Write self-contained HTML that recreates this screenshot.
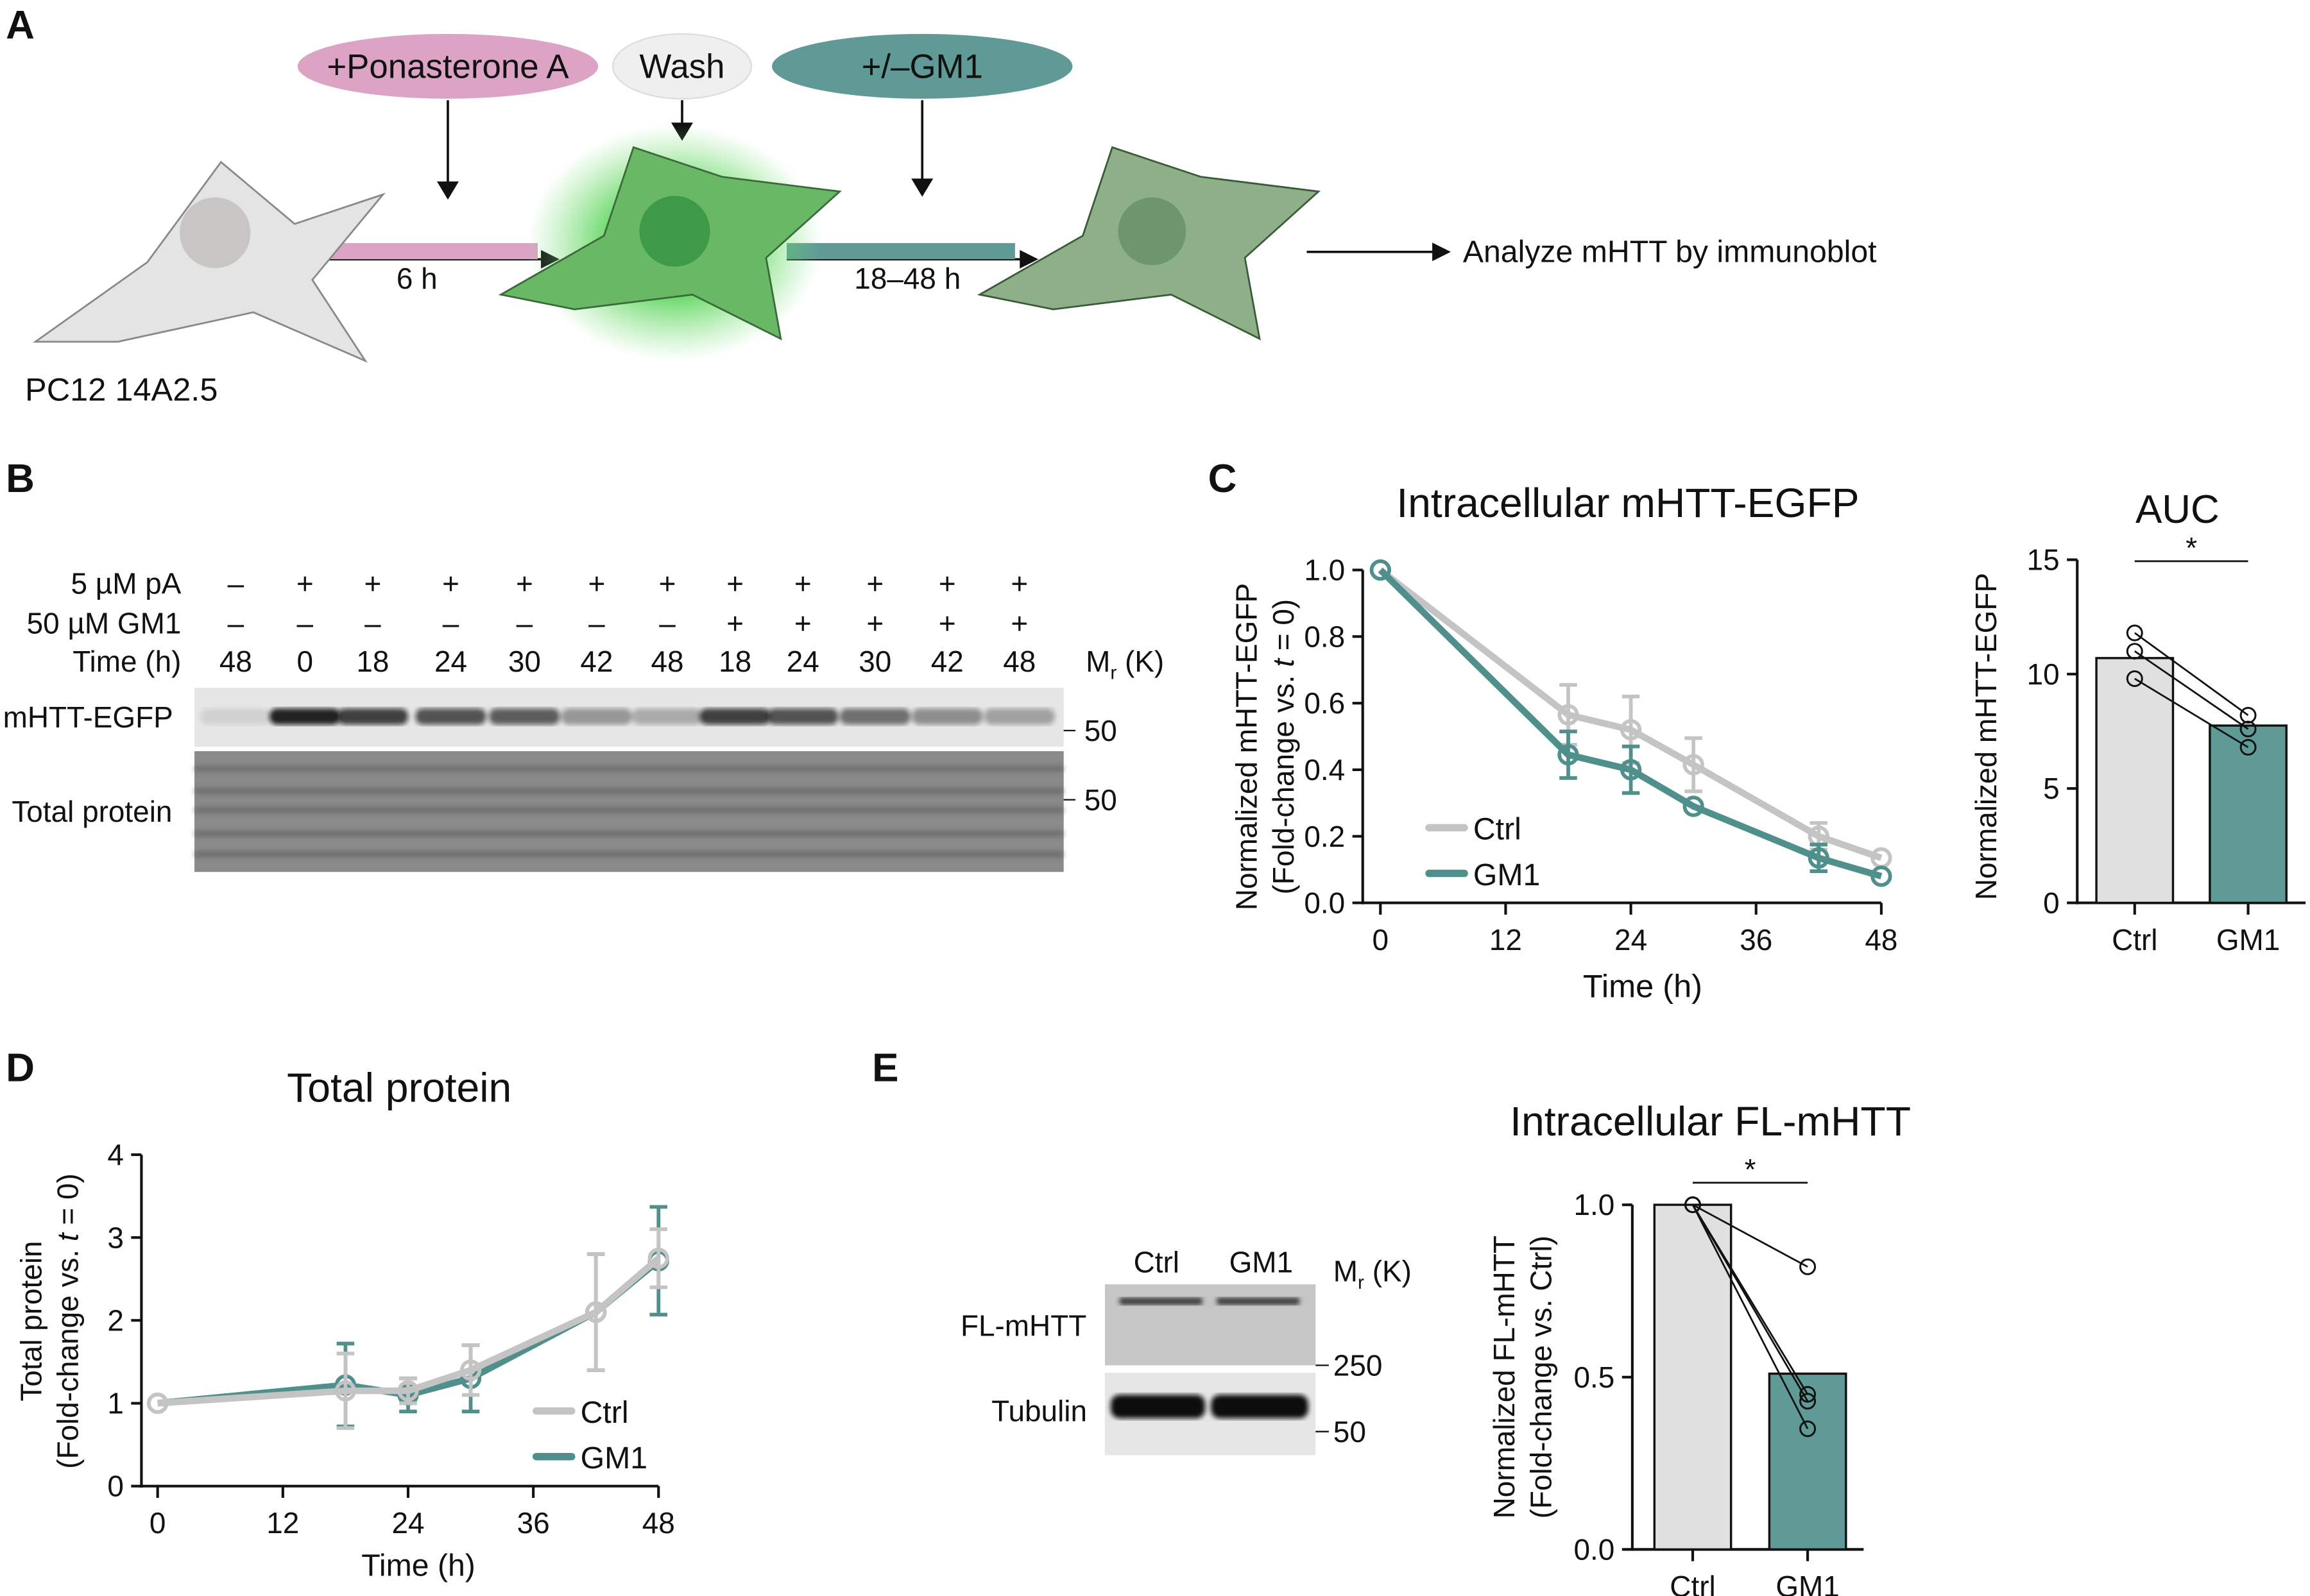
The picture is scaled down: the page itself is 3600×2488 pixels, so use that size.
<!DOCTYPE html>
<html><head><meta charset="utf-8"><style>
html,body{margin:0;padding:0;background:#fff}
svg{display:block}
text{font-family:"Liberation Sans",sans-serif;fill:#111}
</style></head><body>
<svg id="fig" width="3600" height="2488" viewBox="0 0 1568 1083.6" xmlns="http://www.w3.org/2000/svg">
<defs>
<radialGradient id="glow"><stop offset="0.45" stop-color="#4fd24f" stop-opacity="0.85"/><stop offset="1" stop-color="#7be07b" stop-opacity="0"/></radialGradient>
<filter id="bl"><feGaussianBlur stdDeviation="1.6"/></filter>
</defs>
<g>
<text x="4" y="26" font-size="27" font-weight="bold">A</text>
<ellipse cx="304" cy="45" rx="102" ry="22" fill="#dca3c4"/>
<text x="304" y="53" font-size="23" text-anchor="middle">+Ponasterone A</text>
<ellipse cx="463" cy="45" rx="47" ry="22" fill="#efefef" stroke="#ddd"/>
<text x="463" y="53" font-size="23" text-anchor="middle">Wash</text>
<ellipse cx="626" cy="45" rx="102" ry="22" fill="#5f9a96"/>
<text x="626" y="53" font-size="23" text-anchor="middle">+/–GM1</text>
<g stroke="#111" stroke-width="1.6" fill="#111">
<line x1="304" y1="68" x2="304" y2="126"/><polygon points="298,124 310,124 304,134"/>
<line x1="463" y1="68" x2="463" y2="86"/><polygon points="457,84 469,84 463,94"/>
<line x1="626" y1="68" x2="626" y2="124"/><polygon points="620,122 632,122 626,132"/>
<line x1="210" y1="176" x2="370" y2="176"/><polygon points="368,171 378,176 368,181"/>
<line x1="534" y1="176" x2="695" y2="176"/><polygon points="693,171 703,176 693,181"/>
<line x1="887" y1="171" x2="975" y2="171"/><polygon points="973,166 983,171 973,176"/>
</g>
<rect x="210" y="165" width="155" height="11" fill="#dca3c4"/>
<rect x="534" y="165" width="155" height="11" fill="#5f9a96"/>
<text x="283" y="196" font-size="20" text-anchor="middle">6 h</text>
<text x="616" y="196" font-size="20" text-anchor="middle">18–48 h</text>
<text x="993" y="178" font-size="21">Analyze mHTT by immunoblot</text>
<text x="17" y="272" font-size="22">PC12 14A2.5</text>
<polygon points="24,232 100,178 150,110 200,152 260,132 212,190 248,245 172,212 80,232" fill="#e4e4e4" stroke="#888" stroke-width="1.2"/>
<circle cx="146" cy="158" r="24" fill="#c9c5c5"/>
<ellipse cx="458" cy="165" rx="100" ry="80" fill="url(#glow)"/>
<polygon points="340,200 410,160 430,100 490,120 570,130 520,175 530,230 470,200 390,210" fill="#69b866" stroke="#3a6a3a" stroke-width="1.2"/>
<circle cx="458" cy="157" r="24" fill="#3e9a48"/>
<polygon points="665,200 735,160 755,100 815,120 895,130 845,175 855,230 795,200 715,210" fill="#8db088" stroke="#3a5a3a" stroke-width="1.2"/>
<circle cx="782" cy="157" r="23" fill="#6d966c"/>
</g>
<g id="pb">
<text x="4" y="334" font-size="27" font-weight="bold">B</text>
<text x="123" y="403" font-size="20" text-anchor="end">5 µM pA</text>
<text x="123" y="430" font-size="20" text-anchor="end">50 µM GM1</text>
<text x="123" y="456" font-size="20" text-anchor="end">Time (h)</text>
<text x="737" y="456" font-size="20">M<tspan font-size="13" dy="5">r</tspan><tspan dy="-5"> (K)</tspan></text>
<rect x="132" y="467" width="590" height="40" fill="#e6e6e6"/>
<rect x="132" y="510" width="590" height="82" fill="#8a8a8a"/>
<g stroke="#5c5c5c" stroke-width="4" opacity="0.6" filter="url(#bl)"><line x1="132" y1="522" x2="722" y2="522"/><line x1="132" y1="537" x2="722" y2="537"/><line x1="132" y1="550" x2="722" y2="550"/><line x1="132" y1="566" x2="722" y2="566"/><line x1="132" y1="580" x2="722" y2="580"/></g>
<text x="2" y="494" font-size="20">mHTT-EGFP</text>
<text x="8" y="558" font-size="20">Total protein</text>
<line x1="722" y1="496" x2="730" y2="496" stroke="#111"/><text x="736" y="503" font-size="20">50</text>
<line x1="722" y1="543" x2="730" y2="543" stroke="#111"/><text x="736" y="550" font-size="20">50</text>
</g>
<g id="pc">
<text x="820" y="334" font-size="27" font-weight="bold">C</text>
<text x="1105" y="351" font-size="28" text-anchor="middle">Intracellular mHTT-EGFP</text>
<text transform="translate(853,507) rotate(-90)" font-size="20" text-anchor="middle">Normalized mHTT-EGFP</text>
<text transform="translate(878,507) rotate(-90)" font-size="20" text-anchor="middle">(Fold-change vs. <tspan font-style="italic">t</tspan> = 0)</text>
<text x="1115" y="677" font-size="22" text-anchor="middle">Time (h)</text>
<text x="1478" y="355" font-size="27" text-anchor="middle">AUC</text>
<text transform="translate(1355,500) rotate(-90)" font-size="20" text-anchor="middle">Normalized mHTT-EGFP</text>
</g>
<g id="pd">
<text x="4" y="734" font-size="27" font-weight="bold">D</text>
<text x="271" y="748" font-size="28" text-anchor="middle">Total protein</text>
<text transform="translate(28,897) rotate(-90)" font-size="20" text-anchor="middle">Total protein</text>
<text transform="translate(53,897) rotate(-90)" font-size="20" text-anchor="middle">(Fold-change vs. <tspan font-style="italic">t</tspan> = 0)</text>
<text x="284" y="1070" font-size="21" text-anchor="middle">Time (h)</text>
</g>
<g id="pe">
<text x="592" y="734" font-size="27" font-weight="bold">E</text>
<text x="785" y="864" font-size="20" text-anchor="middle">Ctrl</text>
<text x="856" y="864" font-size="20" text-anchor="middle">GM1</text>
<text x="905" y="870" font-size="20">M<tspan font-size="13" dy="5">r</tspan><tspan dy="-5"> (K)</tspan></text>
<rect x="750" y="872" width="143" height="55" fill="#c6c6c6"/>
<rect x="760" y="881" width="56" height="5" fill="#3a3a3a" filter="url(#bl)"/><rect x="826" y="881" width="56" height="5" fill="#3a3a3a" filter="url(#bl)"/>
<rect x="750" y="932" width="143" height="56" fill="#e6e6e6"/>
<rect x="754" y="947" width="64" height="16" rx="6" fill="#111" filter="url(#bl)"/><rect x="822" y="947" width="66" height="16" rx="6" fill="#111" filter="url(#bl)"/>
<text x="652" y="907" font-size="20">FL-mHTT</text>
<text x="673" y="965" font-size="20">Tubulin</text>
<line x1="893" y1="927" x2="902" y2="927" stroke="#111"/><text x="905" y="934" font-size="20">250</text>
<line x1="893" y1="972" x2="902" y2="972" stroke="#111"/><text x="905" y="979" font-size="20">50</text>
<text x="1161" y="771" font-size="28" text-anchor="middle">Intracellular FL-mHTT</text>
<text transform="translate(1028,935) rotate(-90)" font-size="20" text-anchor="middle">Normalized FL-mHTT</text>
<text transform="translate(1053,935) rotate(-90)" font-size="20" text-anchor="middle">(Fold-change vs. Ctrl)</text>
</g>
</svg>
<script>
const laneX=[160,207,253,306,356,405,453,499,545,594,643,692];
const paRow=['–','+','+','+','+','+','+','+','+','+','+','+'];
const gmRow=['–','–','–','–','–','–','–','+','+','+','+','+'];
const timeRow=['48','0','18','24','30','42','48','18','24','30','42','48'];
const bandIntensity=[0.1,1,0.85,0.75,0.7,0.4,0.3,0.85,0.75,0.6,0.45,0.35];
const cTimes=[0,18,24,30,42,48];
const cCtrl=[1.0,0.565,0.52,0.415,0.2,0.135];
const cCtrlErr=[0,0.09,0.1,0.08,0.04,0];
const cGM1=[1.0,0.445,0.4,0.29,0.135,0.08];
const cGM1Err=[0,0.07,0.07,0,0.04,0];
const cYTicks=['0.0','0.2','0.4','0.6','0.8','1.0'];
const cXTicks=[0,12,24,36,48];
const aucCats=['Ctrl','GM1'];
const aucMeans=[10.7,7.75];
const aucCtrlPts=[11.8,11.0,9.8];
const aucGM1Pts=[8.2,7.6,6.8];
const aucYTicks=[0,5,10,15];
const dTimes=[0,18,24,30,42,48];
const dCtrl=[1.0,1.15,1.15,1.4,2.1,2.75];
const dCtrlErr=[0,0.45,0.15,0.3,0.7,0.35];
const dGM1=[1.0,1.22,1.1,1.3,2.1,2.72];
const dGM1Err=[0,0.5,0.2,0.4,0.7,0.65];
const dYTicks=[0,1,2,3,4];
const dXTicks=[0,12,24,36,48];
const eCats=['Ctrl','GM1'];
const eMeans=[1.0,0.51];
const eCtrlPts=[1.0,1.0,1.0,1.0];
const eGM1Pts=[0.82,0.45,0.43,0.35];
const eYTicks=['0.0','0.5','1.0'];

const NS='http://www.w3.org/2000/svg';
const svg=document.getElementById('fig');
const GRAY='#c4c4c4',TEAL='#4f8f8c';
function mk(tag,at,parent){const e=document.createElementNS(NS,tag);for(const k in at)e.setAttribute(k,at[k]);(parent||svg).appendChild(e);return e;}
function txt(x,y,s,size,anchor){const t=mk('text',{x:x,y:y,'font-size':size,'text-anchor':anchor||'middle'});t.textContent=s;return t;}

laneX.forEach((x,i)=>{
 let t=txt(x,403,paRow[i],20);
 
 
 t=txt(x,430,gmRow[i],20);
 
 
 t=txt(x,456,timeRow[i],20);
 
 
 const b=mk('rect',{x:x-24,y:481,width:48,height:11,rx:5,fill:'#111',opacity:bandIntensity[i]*0.9,filter:'url(#bl)'});
 
 
 const s=mk('line',{x1:x+23,y1:510,x2:x+23,y2:592,stroke:'#aaa','stroke-width':4,opacity:0.5,filter:'url(#bl)'});
 
 
});

function axis(x0,x1,y0,y1,axisX,axisY){
 mk('line',{x1:axisX,y1:y0,x2:axisX,y2:axisY+1,stroke:'#111','stroke-width':1.8});
 mk('line',{x1:axisX-1,y1:axisY,x2:x1,y2:axisY,stroke:'#111','stroke-width':1.8});
}
function lineChart(o){
 const sx=v=>o.x0+(v-o.xmin)/(o.xmax-o.xmin)*(o.x1-o.x0);
 const sy=v=>o.y0-(v-o.ymin)/(o.ymax-o.ymin)*(o.y0-o.y1);
 axis(o.x0,o.x1,o.y1,o.y0,o.ax,o.y0);
 o.yt.forEach(v=>{const y=sy(+v);mk('line',{x1:o.ax-7,y1:y,x2:o.ax,y2:y,stroke:'#111','stroke-width':1.8});const t=txt(o.ax-12,y+7,String(v),20,'end');});
 o.xt.forEach(v=>{const x=sx(v);mk('line',{x1:x,y1:o.y0,x2:x,y2:o.y0+8,stroke:'#111','stroke-width':1.8});const t=txt(x,o.y0+32,String(v),20);});
 o.series.forEach(s=>{
  const pts=o.times.map((t,i)=>sx(t)+','+sy(s.v[i])).join(' ');
  s.e.forEach((e,i)=>{if(!e)return;const x=sx(o.times[i]);
   const g=mk('path',{d:`M${x},${sy(s.v[i]-e)}V${sy(s.v[i]+e)}M${x-6},${sy(s.v[i]-e)}h12M${x-6},${sy(s.v[i]+e)}h12`,stroke:s.c,'stroke-width':2.5,fill:'none'});
   
   });
  const l=mk('polyline',{points:pts,fill:'none',stroke:s.c,'stroke-width':4.5,'stroke-linejoin':'round'});
  
  
  o.times.forEach((t,i)=>{const c=mk('circle',{cx:sx(t),cy:sy(s.v[i]),r:6,fill:'none',stroke:s.c,'stroke-width':2.5});
   
   });
 });
 o.leg.forEach((L,i)=>{const l=mk('line',{x1:L.x,y1:L.y,x2:L.x+24,y2:L.y,stroke:L.c,'stroke-width':5,'stroke-linecap':'round'});
  
  
  const t=txt(L.x+30,L.y+8,L.n,21,'start');
  
  });
}
lineChart({x0:937,x1:1277,xmin:0,xmax:48,y0:613,y1:387,ymin:0,ymax:1,ax:925,times:cTimes,yt:cYTicks,xt:cXTicks,
 series:[{v:cCtrl,e:cCtrlErr,c:GRAY,n:'ctrl'},{v:cGM1,e:cGM1Err,c:TEAL,n:'gm1'}],
 leg:[{x:970,y:562,c:GRAY,n:'Ctrl'},{x:970,y:593,c:TEAL,n:'GM1'}]});
lineChart({x0:107,x1:447,xmin:0,xmax:48,y0:1009,y1:784,ymin:0,ymax:4,ax:96,times:dTimes,yt:dYTicks,xt:dXTicks,
 series:[{v:dGM1,e:dGM1Err,c:TEAL,n:'gm1'},{v:dCtrl,e:dCtrlErr,c:GRAY,n:'ctrl'}],
 leg:[{x:364,y:958,c:GRAY,n:'Ctrl'},{x:364,y:989,c:TEAL,n:'GM1'}]});

function barChart(o){
 const sy=v=>o.y0-(v-o.ymin)/(o.ymax-o.ymin)*(o.y0-o.y1);
 axis(o.ax,o.xend,o.y1,o.y0,o.ax,o.y0);
 o.yt.forEach(v=>{const y=sy(+v);mk('line',{x1:o.ax-7,y1:y,x2:o.ax,y2:y,stroke:'#111','stroke-width':1.8});const t=txt(o.ax-12,y+7,String(v),20,'end');});
 const cx=[o.bx[0]+26,o.bx[1]+26];
 o.means.forEach((m,i)=>{const r=mk('rect',{x:o.bx[i],y:sy(m),width:52,height:o.y0-sy(m),fill:i?'#5f9a96':'#e0e0e0',stroke:'#111','stroke-width':1.5});
  
  
  mk('line',{x1:cx[i],y1:o.y0,x2:cx[i],y2:o.y0+8,stroke:'#111','stroke-width':1.8});
  const t=txt(cx[i],o.y0+32,o.cats[i],20);
  
  });
 o.p0.forEach((v,i)=>{const l=mk('line',{x1:cx[0],y1:sy(v),x2:cx[1],y2:sy(o.p1[i]),stroke:'#111','stroke-width':1.2});
  
  });
 [o.p0,o.p1].forEach((arr,j)=>arr.forEach(v=>{const c=mk('circle',{cx:cx[j],cy:sy(v),r:5,fill:'none',stroke:'#111','stroke-width':1.3});
  
  }));
 const s=mk('line',{x1:cx[0],y1:o.sig,x2:cx[1],y2:o.sig,stroke:'#111','stroke-width':1.2});
 
 
 const st=txt((cx[0]+cx[1])/2,o.sig-2,'*',20);
 
 
}
barChart({ax:1410,xend:1565,y0:613,y1:380,ymin:0,ymax:15,yt:aucYTicks,bx:[1423,1500],means:aucMeans,cats:aucCats,p0:aucCtrlPts,p1:aucGM1Pts,sig:381});
barChart({ax:1108,xend:1265,y0:1052,y1:818,ymin:0,ymax:1,yt:eYTicks,bx:[1123,1201],means:eMeans,cats:eCats,p0:eCtrlPts,p1:eGM1Pts,sig:803});
</script>
</body></html>
